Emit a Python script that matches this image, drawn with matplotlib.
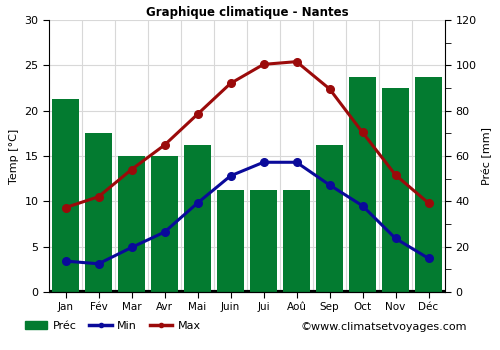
import matplotlib.pyplot as plt
import numpy as np

months = ["Jan", "Fév", "Mar", "Avr", "Mai", "Juin", "Jui", "Aoû", "Sep", "Oct", "Nov", "Déc"]
prec = [85, 70, 60, 60, 65, 45, 45, 45, 65, 95, 90, 95]
t_min = [3.4, 3.1, 4.9, 6.6, 9.8, 12.8, 14.3, 14.3, 11.8, 9.5, 5.9, 3.7]
t_max = [9.3, 10.5, 13.5, 16.2, 19.6, 23.0, 25.1, 25.4, 22.4, 17.6, 12.9, 9.8]

green = "#037b30"
blue = "#0a0a9a"
red = "#9b0a0a"

fig = plt.figure(figsize=(5, 3.5), dpi=100)
ax = fig.add_axes([0.098, 0.166, 0.792, 0.777])
ax2 = ax.twinx()

x = np.arange(len(months))

# precipitation bars on the right axis
ax2.bar(x, prec, width=0.8, color=green, zorder=2)
ax2.set_ylim(0, 120)
ax2.set_yticks(range(0, 121, 20))
ax2.set_yticks(range(10, 120, 20), minor=True)
ax2.set_ylabel("Préc [mm]", fontsize=8)

# temperature lines on the left axis, drawn on top
ax.set_zorder(ax2.get_zorder() + 1)
ax.patch.set_visible(False)
ax.plot(x, t_min, color=blue, lw=2.2, marker="o", ms=5.5, zorder=3)
ax.plot(x, t_max, color=red, lw=2.2, marker="o", ms=5.5, zorder=3)
ax.set_ylim(0, 30)
ax.set_xlim(-0.5, 11.5)
ax.set_yticks(range(0, 31, 5))
ax.set_xticks(x)
ax.set_xticklabels(months)
ax.set_ylabel("Temp [°C]", fontsize=8)
ax.set_title("Graphique climatique - Nantes", fontsize=8.5, fontweight="bold", pad=3)

# grid: horizontal every 5 deg, vertical between months
for yv in range(5, 31, 5):
    ax2.axhline(yv * 4, color="#d8d8d8", lw=0.8, zorder=0)
for xv in np.arange(0.5, 11.5, 1):
    ax2.axvline(xv, color="#d8d8d8", lw=0.8, zorder=0)
ax2.axhline(0, color="black", lw=3, zorder=1)

for a in (ax, ax2):
    a.spines["top"].set_visible(False)
    a.tick_params(labelsize=8, length=4, colors="black")
    a.tick_params(which="minor", length=4)
ax2.spines["left"].set_visible(False)
ax.spines["right"].set_visible(False)
ax.tick_params(axis="x", length=4, labelsize=7.5)

# legend at the bottom
handles = [
    plt.Rectangle((0, 0), 1, 1, color=green),
    plt.Line2D([], [], color=blue, lw=2.5, marker="o", ms=3),
    plt.Line2D([], [], color=red, lw=2.5, marker="o", ms=3),
]
fig.legend(handles, ["Préc", "Min", "Max"], loc="center left", bbox_to_anchor=(0.05, 0.068),
           ncol=3, frameon=False, fontsize=8, handlelength=2.0, handletextpad=0.5,
           columnspacing=1.15, borderaxespad=0, borderpad=0)
fig.text(0.935, 0.067, "©www.climatsetvoyages.com", ha="right", va="center", fontsize=8)

fig.savefig("out.png", dpi=100)
